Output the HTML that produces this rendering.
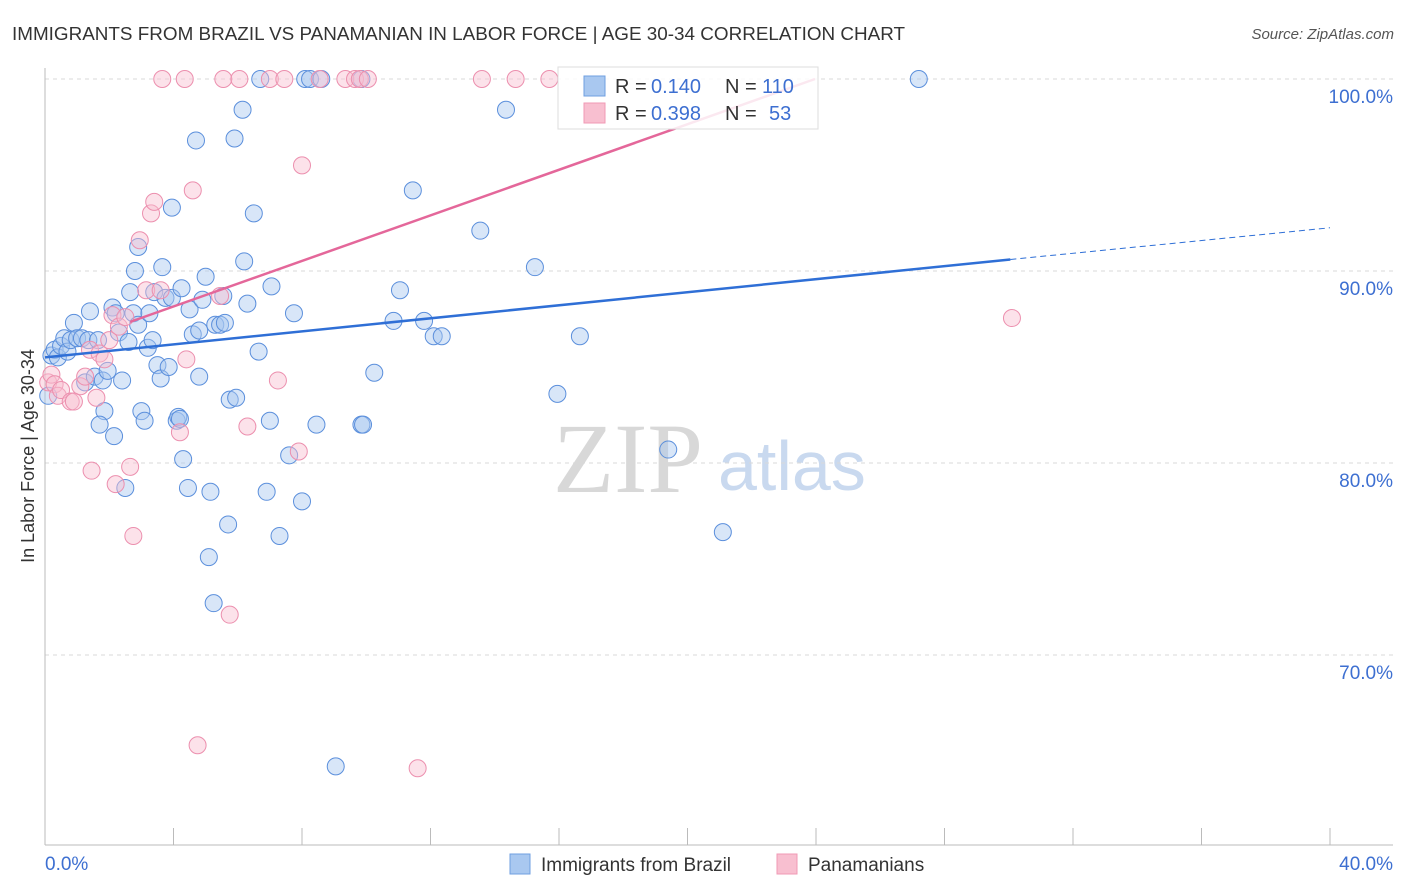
<!DOCTYPE html>
<html><head><meta charset="utf-8">
<style>
body{margin:0;background:#fff;font-family:"Liberation Sans",sans-serif;}
#wrap{position:relative;width:1406px;height:892px;overflow:hidden;}
svg text{font-family:"Liberation Sans",sans-serif;}
</style></head>
<body>
<div id="wrap">
<svg id="chart" width="1406" height="892">
<text x="12" y="40" font-size="18" fill="#333" textLength="893" lengthAdjust="spacingAndGlyphs">IMMIGRANTS FROM BRAZIL VS PANAMANIAN IN LABOR FORCE | AGE 30-34 CORRELATION CHART</text>
<text x="1394" y="39" font-size="15" fill="#555" font-style="italic" text-anchor="end">Source: ZipAtlas.com</text>
<text x="34" y="456" font-size="18" fill="#333" text-anchor="middle" transform="rotate(-90 34 456)">In Labor Force | Age 30-34</text>
<text x="553" y="492" font-size="100" fill="#d8d8d8" font-family="Liberation Serif" style="font-family:'Liberation Serif',serif">ZIP</text>
<text x="718" y="490" font-size="70" fill="#c9d9ef">atlas</text>
<g id="grid"></g>
<g id="marks"></g>
<g>
<rect x="558" y="67" width="260" height="62" fill="#fff" fill-opacity="0.85" stroke="#ddd"/>
<rect x="584" y="76" width="21" height="20" fill="#a9c8f0" stroke="#6f9fe0"/>
<rect x="584" y="103" width="21" height="20" fill="#f8bfd0" stroke="#f09ab5"/>
<text x="615" y="93" font-size="20" fill="#333">R =</text>
<text x="651" y="93" font-size="20" fill="#3d6fd1">0.140</text>
<text x="725" y="93" font-size="20" fill="#333">N =</text>
<text x="762" y="93" font-size="20" fill="#3d6fd1">110</text>
<text x="615" y="120" font-size="20" fill="#333">R =</text>
<text x="651" y="120" font-size="20" fill="#3d6fd1">0.398</text>
<text x="725" y="120" font-size="20" fill="#333">N =</text>
<text x="769" y="120" font-size="20" fill="#3d6fd1">53</text>
</g>
<g>
<rect x="510" y="854" width="20" height="20" fill="#a9c8f0" stroke="#6f9fe0"/>
<text x="541" y="871" font-size="19" fill="#333">Immigrants from Brazil</text>
<rect x="777" y="854" width="20" height="20" fill="#f8bfd0" stroke="#f09ab5"/>
<text x="808" y="871" font-size="19" fill="#333">Panamanians</text>
</g>
</svg>
</div>
<script>
const xTicks=[0,4,8,12,16,20,24,28,32,36,40];
const yTicks=[70,80,90,100];
const yTickLabels=["70.0%","80.0%","90.0%","100.0%"];
const xEndLabels=["0.0%","40.0%"];
const brazilX=[0.1,0.2,0.3,0.4,0.5,0.6,0.7,0.8,0.9,1.0,1.15,1.25,1.35,1.4,1.55,1.65,1.8,1.85,1.7,1.95,2.1,2.15,2.2,2.3,2.4,2.5,2.6,2.65,2.75,2.8,2.9,2.9,3.0,3.1,3.2,3.25,3.35,3.4,3.5,3.6,3.65,3.75,3.85,3.95,3.95,4.1,4.15,4.2,4.25,4.3,4.45,4.5,4.6,4.7,4.8,4.8,4.9,5.0,5.1,5.15,5.25,5.3,5.45,5.55,5.6,5.7,5.75,5.9,5.95,6.15,6.2,6.3,6.5,6.65,6.7,6.9,7.0,7.05,7.3,7.6,7.75,8.0,8.1,8.25,8.45,8.6,9.05,9.85,9.9,9.85,10.25,10.85,11.05,11.45,11.8,12.1,12.35,13.55,14.35,15.25,15.95,16.65,19.4,21.1,27.2];
const brazilY=[83.5,85.6,85.9,85.5,86.1,86.5,85.8,86.4,87.3,86.5,86.5,84.2,86.4,87.9,84.5,86.4,84.3,82.7,82.0,84.8,88.1,81.4,87.8,86.8,84.3,78.7,86.3,88.9,87.8,90.0,87.2,91.25,82.7,82.2,86.0,87.8,86.4,88.9,85.1,84.4,90.2,88.6,85.0,93.3,88.6,82.2,82.4,82.3,89.1,80.2,78.7,88.0,86.7,96.8,84.5,86.9,88.5,89.7,75.1,78.5,72.7,87.2,87.2,88.7,87.3,76.8,83.3,96.9,83.4,98.4,90.5,88.3,93.0,85.8,100,78.5,82.2,89.2,76.2,80.4,87.8,78.0,100,100,82.0,100,64.2,82.0,82.0,100,84.7,87.4,89.0,94.2,87.4,86.6,86.6,92.1,98.4,90.2,83.6,86.6,80.7,76.4,100];
const panX=[0.1,0.2,0.3,0.4,0.5,0.8,0.9,1.1,1.25,1.4,1.45,1.6,1.7,1.85,2.0,2.1,2.2,2.3,2.5,2.65,2.75,2.95,3.15,3.3,3.4,3.6,3.65,4.2,4.35,4.4,4.6,4.75,5.45,5.55,5.75,6.05,6.3,7.0,7.25,7.45,7.9,8.0,8.55,9.35,9.65,9.8,10.05,11.6,13.6,14.65,15.7,30.1];
const panY=[84.2,84.6,84.1,83.5,83.8,83.2,83.2,84.0,84.5,85.9,79.6,83.4,85.7,85.4,86.4,87.7,78.9,87.1,87.6,79.8,76.2,91.6,89.0,93.0,93.6,89.0,100,81.6,100,85.4,94.2,65.3,88.7,100,72.1,100,81.9,100,84.3,100,80.6,95.5,100,100,100,100,100,64.1,100,100,100,87.55];
const brazilTrend=[[0,85.5],[30.05,90.6],[40,92.25]];
const panTrend=[[2.65,87.35],[23.97,100]];

const X0=45,X1=1330,Y100=79,PPU=19.2;
const sx=v=>X0+(X1-X0)*v/40;
const sy=v=>Y100+(100-v)*PPU;
const NS="http://www.w3.org/2000/svg";
function mk(tag,attrs,parent){const e=document.createElementNS(NS,tag);for(const k in attrs)e.setAttribute(k,attrs[k]);parent.appendChild(e);return e;}
const grid=document.getElementById('grid'),marks=document.getElementById('marks');
yTicks.forEach((t,i)=>{
 const l=mk('line',{x1:X0,x2:1393,y1:sy(t),y2:sy(t),stroke:'#d9d9d9','stroke-dasharray':'4,4'},grid);
 
 
 const tx=mk('text',{x:1393,y:sy(t)+24,'font-size':19,fill:'#3d6fd1','text-anchor':'end'},grid);
 tx.textContent=yTickLabels[i];
 
 
});
const ax=mk('line',{x1:X0,x2:X0,y1:68,y2:845,stroke:'#bbb'},grid);


const bx=mk('line',{x1:X0,x2:1393,y1:845,y2:845,stroke:'#bbb'},grid);


xTicks.forEach(t=>{
 const l=mk('line',{x1:sx(t),x2:sx(t),y1:828,y2:845,stroke:'#bbb'},grid);
 
 
});
[[0,'start',45],[40,'end',1393]].forEach((a,i)=>{
 const tx=mk('text',{x:a[2],y:870,'font-size':19,fill:'#3d6fd1','text-anchor':a[1]},grid);
 tx.textContent=xEndLabels[i];
 
 
});
function dots(xs,ys,fill,stroke,name){
 xs.forEach((x,i)=>{
  const c=mk('circle',{cx:sx(x),cy:sy(ys[i]),r:8.5,fill:fill,'fill-opacity':0.45,stroke:stroke,'stroke-width':1},marks);
  
  
 });
}
dots(brazilX,brazilY,'#a9c8f0','#5b8fdc','brazil-point');
dots(panX,panY,'#f8bfd0','#ec8fae','panamanian-point');
const b1=mk('line',{x1:sx(brazilTrend[0][0]),y1:sy(brazilTrend[0][1]),x2:sx(brazilTrend[1][0]),y2:sy(brazilTrend[1][1]),stroke:'#2f6fd6','stroke-width':2.5},marks);


const b2=mk('line',{x1:sx(brazilTrend[1][0]),y1:sy(brazilTrend[1][1]),x2:sx(brazilTrend[2][0]),y2:sy(brazilTrend[2][1]),stroke:'#2f6fd6','stroke-width':1,'stroke-dasharray':'6,4'},marks);


const p1=mk('line',{x1:sx(panTrend[0][0]),y1:sy(panTrend[0][1]),x2:sx(panTrend[1][0]),y2:sy(panTrend[1][1]),stroke:'#e4679a','stroke-width':2.5},marks);


</script>
</body></html>
